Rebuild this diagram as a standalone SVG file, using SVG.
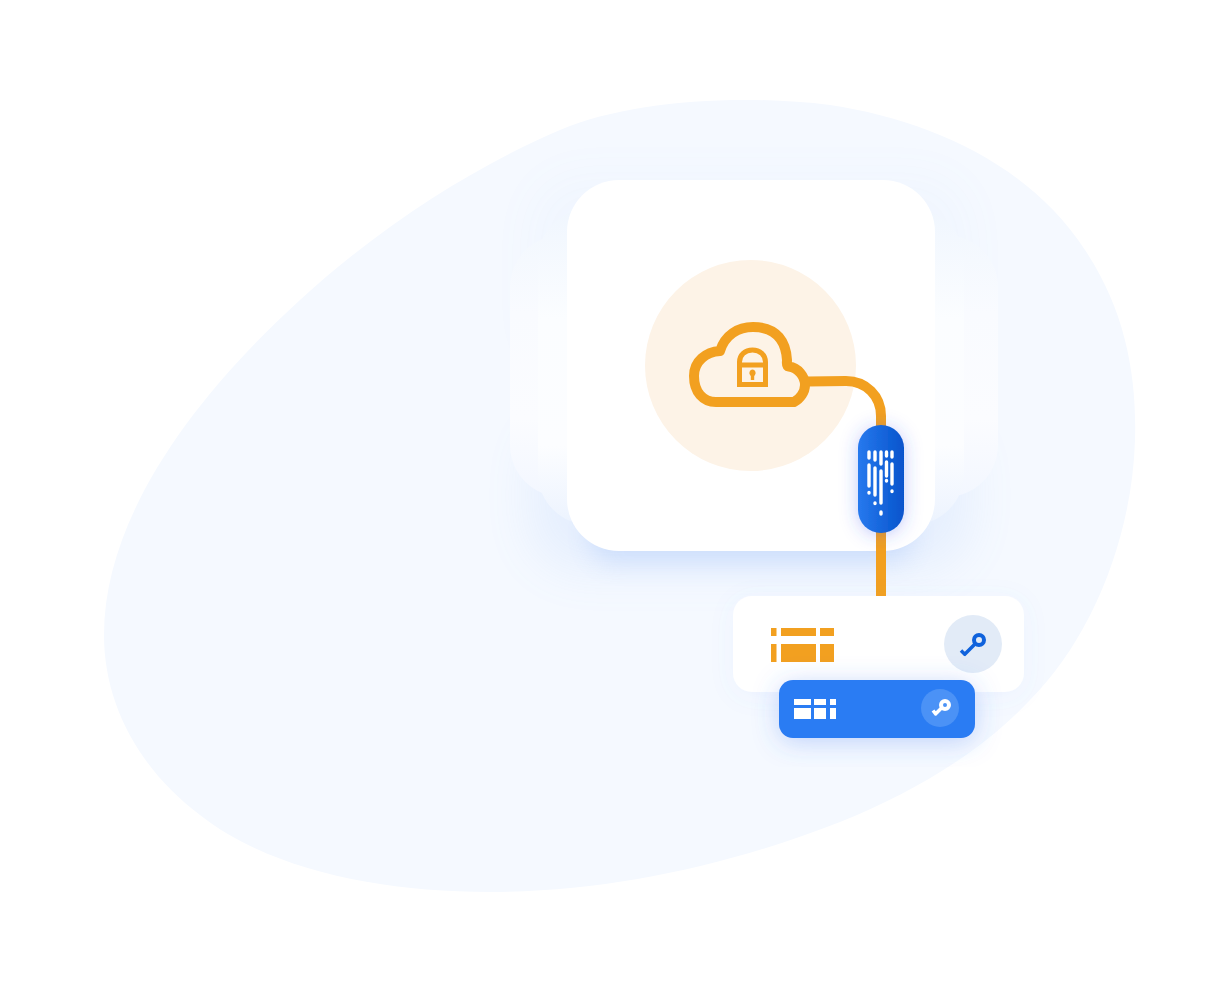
<svg xmlns="http://www.w3.org/2000/svg" width="1226" height="1006" viewBox="0 0 1226 1006">
<defs>
<linearGradient id="pill" x1="0" y1="0" x2="1" y2="0"><stop offset="0" stop-color="#2779ee"/><stop offset="1" stop-color="#0654cc"/></linearGradient>
<linearGradient id="fade3" x1="0" y1="0" x2="0" y2="1"><stop offset="0" stop-color="#f3f8fe"/><stop offset=".3" stop-color="#f9fbff"/><stop offset=".7" stop-color="#fbfcff"/><stop offset="1" stop-color="#f3f7ff"/></linearGradient>
<linearGradient id="fade2" x1="0" y1="0" x2="0" y2="1"><stop offset="0" stop-color="#f0f6fe"/><stop offset=".35" stop-color="#fbfdff"/><stop offset=".75" stop-color="#fcfdff"/><stop offset="1" stop-color="#ecf3fe"/></linearGradient>
<filter id="blurMain" x="-30%" y="-60%" width="160%" height="220%"><feGaussianBlur stdDeviation="13"/></filter>
<filter id="blurBack" x="-30%" y="-40%" width="160%" height="180%"><feGaussianBlur stdDeviation="24"/></filter>
<filter id="sh2" x="-60%" y="-30%" width="220%" height="160%"><feDropShadow dx="0" dy="2" stdDeviation="9" flood-color="#3a50f0" flood-opacity=".3"/></filter>
<filter id="sh3" x="-20%" y="-40%" width="140%" height="190%"><feDropShadow dx="0" dy="4" stdDeviation="13" flood-color="#3d78f0" flood-opacity=".3"/></filter>
<filter id="sh4" x="-20%" y="-40%" width="140%" height="180%"><feDropShadow dx="0" dy="4" stdDeviation="12" flood-color="#5a8cf0" flood-opacity=".06"/></filter>
<style>
.wire{fill:none;stroke:#f2a020;stroke-width:10}
.org{fill:#f2a020}
.wht{fill:#fff}
.drip{stroke:#fff;stroke-width:3.4;stroke-linecap:round;fill:none}
</style>
</defs>
<rect width="1226" height="1006" fill="#fff"/>
<path id="blob" fill="#f5f9ff" d="M104 635C104 520 190 400 300 300C385 222 480 164 560 130C630 100 740 94 830 105C930 120 1030 165 1085 250C1125 310 1137 375 1135 440C1132 540 1090 640 1030 700C985 748 920 790 840 822C730 865 610 892 490 892C380 892 270 870 200 815C140 770 104 705 104 635Z"/>
<rect x="530" y="175" width="440" height="200" rx="50" fill="#6c9ff5" opacity=".03" filter="url(#blurBack)"/>
<rect x="530" y="420" width="440" height="150" rx="50" fill="#6c9ff5" opacity=".11" filter="url(#blurBack)"/>
<g id="card-back-3"><rect x="510" y="235" width="488" height="262" rx="52" fill="url(#fade3)"/></g>
<g id="card-back-2"><rect x="538" y="208" width="426" height="317" rx="52" fill="url(#fade2)"/></g>
<g id="card-main">
<rect x="590" y="505" width="322" height="58" rx="24" fill="#3f7ff0" opacity=".16" filter="url(#blurMain)"/>
<rect x="567" y="180" width="368" height="371" rx="52" fill="#fff"/>
<circle cx="750.500" cy="365.500" r="105.500" fill="#fdf3e7"/>
</g>
<g id="connectors">
<path class="wire" d="M808 381.500L846 381C866 381 881 396 881 416V430"/>
<path class="wire" d="M881 525V600"/>
</g>
<g id="cloud-lock">
<path class="wire" stroke-linejoin="round" d="M716 402H794C800 399 805 392 805 385C805 376 798 368 789 366.500C786 366 787 363 787 360C786 343 778 327 753 327C738 327 725 335 720 351C706 352 694 361 694 376C694 392 703 402 716 402Z"/>
<path fill="none" stroke="#f2a020" stroke-width="5" d="M739.500 384.500V362C739.500 355 745 350 752.500 350C760 350 765.500 355 765.500 362V384.500ZM739.500 365H765.500"/>
<path class="org" d="M752.500 369.500a3.500 3.500 0 0 1 2.500 5.500l-.8 1v4h-3.400v-4l-.8-1a3.500 3.500 0 0 1 2.500-5.500Z"/>
</g>
<g id="pill">
<rect x="858" y="425" width="46" height="108" rx="23" fill="url(#pill)" filter="url(#sh2)"/>
<path class="drip" d="M869 452V458M875 452V460M881 452V464M886.500 452V456M892 452V457M869 465V486M875 468V495M881 471V503M886.500 462V476M892 464V484M869 492.500V493M875 503V503.500M892 491V491.500M886.500 480.500V481M881 512V514"/>
</g>
<g id="table-white">
<rect x="733" y="596" width="291" height="96" rx="19" fill="#fff" filter="url(#sh4)"/>
<path class="org" d="M771 628h5.500v8h-5.500zM781 628h35v8h-35zM820 628h14v8h-14zM771 644h5.500v18h-5.500zM781 644h35v18h-35zM820 644h14v18h-14z"/>
<circle cx="973" cy="644" r="29" fill="#e2ebf7"/>
<circle cx="979" cy="640" r="5" fill="none" stroke="#0f62dc" stroke-width="4"/>
<path fill="none" stroke="#0f62dc" stroke-width="3.500" d="M975.500 643.500L964 655M961 650.500L965.500 655"/>
</g>
<g id="table-blue">
<rect x="779" y="680" width="196" height="58" rx="14" fill="#2a7bf3" filter="url(#sh3)"/>
<path class="wht" d="M794 699h17v6h-17zM814 699h12v6h-12zM830 699h6v6h-6zM794 708h17v11h-17zM814 708h12v11h-12zM830 708h6v11h-6z"/>
<circle cx="940" cy="708" r="19" fill="#4b92f6"/>
<circle cx="945" cy="705" r="4" fill="none" stroke="#fff" stroke-width="4"/>
<path fill="none" stroke="#fff" stroke-width="3.500" d="M941.500 708L935 714.500M933 710.500L936.500 715"/>
</g>
</svg>
